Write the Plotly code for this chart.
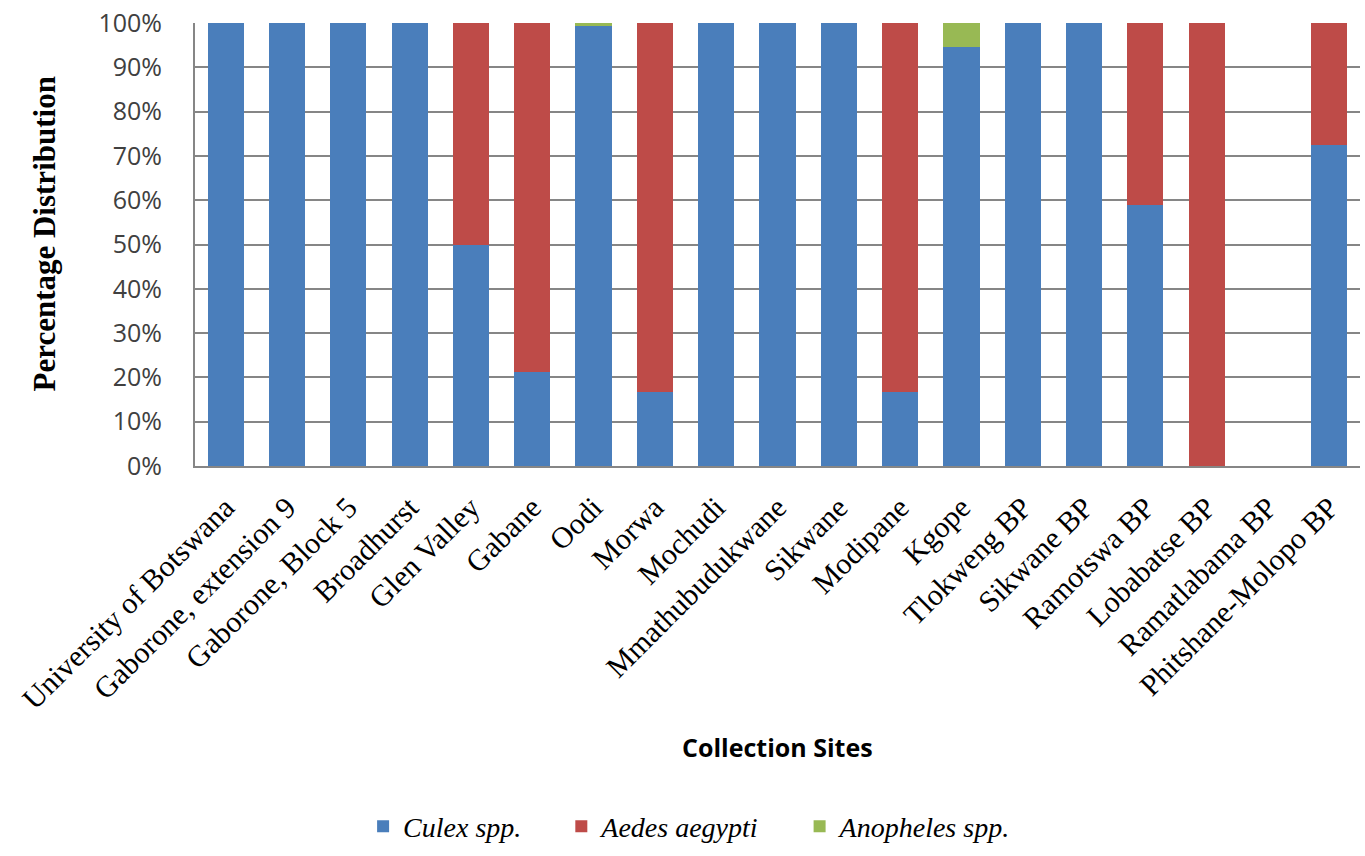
import plotly.graph_objects as go

# Collection sites along the x axis
sites = [
    "University of Botswana", "Gaborone, extension 9", "Gaborone, Block 5",
    "Broadhurst", "Glen Valley", "Gabane", "Oodi", "Morwa", "Mochudi",
    "Mmathubudukwane", "Sikwane", "Modipane", "Kgope", "Tlokweng BP",
    "Sikwane BP", "Ramotswa BP", "Lobabatse BP", "Ramatlabama BP",
    "Phitshane-Molopo BP",
]

# Percentage of each genus per site
culex = [100, 100, 100, 100, 50, 21.3, 99.4, 16.8, 100, 100, 100, 16.8,
         94.5, 100, 100, 58.9, 0, 0, 72.4]
aedes = [0, 0, 0, 0, 50, 78.7, 0, 83.2, 0, 0, 0, 83.2,
         0, 0, 0, 41.1, 100, 0, 27.6]
anopheles = [0, 0, 0, 0, 0, 0, 0.6, 0, 0, 0, 0, 0,
             5.5, 0, 0, 0, 0, 0, 0]

series_names = ["Culex spp.", "Aedes aegypti", "Anopheles spp."]
series_colors = ["#4A7EBB", "#BE4B48", "#98B954"]
y_ticks = [0, 10, 20, 30, 40, 50, 60, 70, 80, 90, 100]
y_tick_text = [f"{v}%" for v in y_ticks]

fig = go.Figure()
for name, vals, color in zip(series_names, [culex, aedes, anopheles], series_colors):
    fig.add_trace(go.Bar(
        x=sites, y=vals, name="<i>" + name + "</i>&nbsp;&nbsp;&nbsp;&nbsp;&nbsp;",
        marker=dict(color=color, line=dict(width=0)),
    ))

fig.update_layout(
    barmode="stack",
    bargap=0.41,
    width=1365, height=856,
    margin=dict(l=195, r=5, t=23, b=387),
    plot_bgcolor="white",
    paper_bgcolor="white",
    showlegend=True,
    legend=dict(
        orientation="h", x=0.44, y=-0.814, xanchor="center", yanchor="middle",
        font=dict(family="Liberation Serif", size=28, color="#000000"),
        itemwidth=30, traceorder="normal",
    ),
    xaxis=dict(
        tickangle=-45,
        tickfont=dict(family="Liberation Serif", size=30, color="#000000"),
        showline=True, linecolor="#868686", linewidth=2,
        ticks="outside", ticklen=10, tickcolor="rgba(0,0,0,0)",
        showgrid=False,
    ),
    yaxis=dict(
        range=[0, 100],
        tickvals=y_ticks,
        ticktext=y_tick_text,
        tickfont=dict(family="Open Sans", size=25, color="#404040"),
        showgrid=True, gridcolor="#868686", gridwidth=2,
        showline=True, linecolor="#868686", linewidth=2,
        ticks="outside", ticklen=26, tickcolor="rgba(0,0,0,0)",
        zeroline=False,
    ),
    annotations=[
        dict(text="<b>Collection Sites</b>", xref="paper", yref="paper",
             x=0.5, y=-0.6345, xanchor="center", yanchor="middle",
             showarrow=False,
             font=dict(family="Open Sans", size=25, color="#000000")),
        dict(text="<b>Percentage Distribution</b>", xref="paper", yref="paper",
             x=-0.1288, y=0.5247, xanchor="center", yanchor="middle",
             textangle=-90, showarrow=False,
             font=dict(family="Liberation Serif", size=31, color="#000000")),
    ],
)

fig.write_html("out.html")
